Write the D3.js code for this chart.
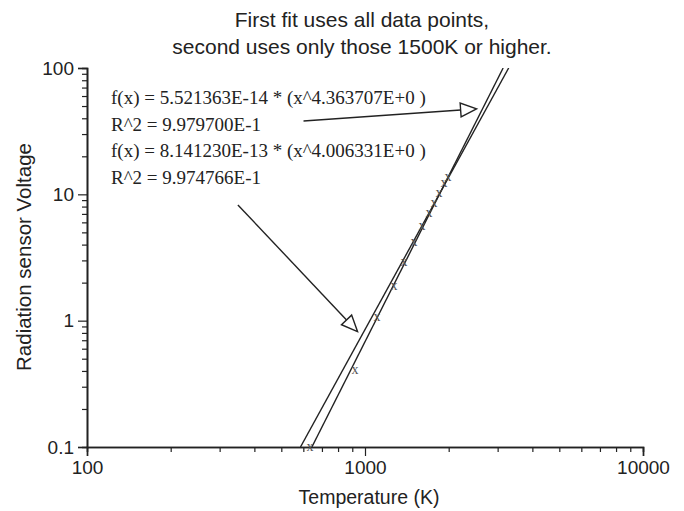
<!DOCTYPE html>
<html>
<head>
  <title>Radiation sensor fit</title>
  <script src="https://d3js.org/d3.v7.min.js"></script>
</head>
<body style="margin:0px; overflow:hidden; background:#fff;">
  <svg id="myPlot" width="684" height="511"></svg>
  <script>
    // Data
    const tempK = [634, 920, 1105, 1271, 1380, 1500, 1603, 1698, 1770, 1845, 1923, 1989];
    const voltage = [0.1, 0.41, 1.07, 1.88, 2.9, 4.2, 5.6, 7.1, 8.6, 10.3, 12.3, 13.7];

    // fit lines (end points where they leave the plot)
    const fitAllT = [644, 3140];
    const fitAllV = [0.1, 100];
    const fitHighT = [586, 3287];
    const fitHighV = [0.1, 100];

    const xTicks = [100, 1000, 10000];
    const xTickLabels = ["100", "1000", "10000"];
    const yTicks = [0.1, 1, 10, 100];
    const yTickLabels = ["0.1", "1", "10", "100"];

    const titleLines = ["First fit uses all data points,", "second uses only those 1500K or higher."];
    const fitText = [
      "f(x) = 5.521363E-14 * (x^4.363707E+0 )",
      "R^2 = 9.979700E-1",
      "f(x) = 8.141230E-13 * (x^4.006331E+0 )",
      "R^2 = 9.974766E-1"
    ];
    // arrows in data coordinates: [T0, V0, T1, V1]
    const arrows = [
      [601, 38.1, 2520, 47.5],
      [349, 8.24, 940, 0.82]
    ];

    // Dimensions
    const mLeft = 87, mRight = 643, mTop = 68, mBottom = 447;
    const ink = "#222";
    const sans = "'Liberation Sans', Arial, sans-serif";
    const serif = "'Liberation Serif', 'Times New Roman', serif";

    const svg = d3.select("#myPlot");

    const x = d3.scaleLog().domain([100, 10000]).range([mLeft, mRight]);
    const y = d3.scaleLog().domain([0.1, 100]).range([mBottom, mTop]);

    // minor ticks
    const minor = (lo, hi) => {
      const out = [];
      for (let e = lo; e < hi; e++) for (let k = 2; k <= 9; k++) out.push(k * Math.pow(10, e));
      return out;
    };

    // X Axis
    const gx = svg.append("g").attr("transform", "translate(0," + mBottom + ")");
    gx.call(d3.axisBottom(x).tickValues(minor(2, 4)).tickSize(5).tickFormat(""));
    gx.append("g").call(d3.axisBottom(x).tickValues(xTicks).tickSize(9)
        .tickFormat((d, i) => xTickLabels[i]).tickPadding(5));
    gx.selectAll("path").attr("stroke", ink).attr("stroke-width", 1.6);
    gx.selectAll("line").attr("stroke", ink).attr("stroke-width", 1.2);
    gx.selectAll("text").attr("fill", ink).style("font-family", sans).style("font-size", "19px");

    // Y Axis
    const gy = svg.append("g").attr("transform", "translate(" + mLeft + ",0)");
    gy.call(d3.axisLeft(y).tickValues(minor(-1, 2)).tickSize(5).tickFormat(""));
    gy.append("g").call(d3.axisLeft(y).tickValues(yTicks).tickSize(9)
        .tickFormat((d, i) => yTickLabels[i]).tickPadding(4));
    gy.selectAll("path").attr("stroke", ink).attr("stroke-width", 1.6);
    gy.selectAll("line").attr("stroke", ink).attr("stroke-width", 1.2);
    gy.selectAll("text").attr("fill", ink).style("font-family", sans).style("font-size", "19px");

    // Axis labels
    svg.append("text")
      .attr("x", 369).attr("y", 504)
      .attr("text-anchor", "middle").attr("fill", ink)
      .style("font-family", sans).style("font-size", "19.5px")
      .text("Temperature (K)");

    svg.append("text")
      .attr("transform", "translate(31,257) rotate(-90)")
      .attr("text-anchor", "middle").attr("fill", ink)
      .style("font-family", sans).style("font-size", "20.5px")
      .text("Radiation sensor Voltage");

    // Title
    svg.append("g").selectAll("text")
      .data(titleLines).enter()
      .append("text")
      .attr("x", 362).attr("y", (d, i) => 27 + i * 27)
      .attr("text-anchor", "middle").attr("fill", ink)
      .style("font-family", sans).style("font-size", "21px")
      .text(d => d);

    // Fit lines, clipped to plot area
    svg.append("clipPath").attr("id", "plotClip")
      .append("rect").attr("x", mLeft).attr("y", mTop)
      .attr("width", mRight - mLeft).attr("height", mBottom - mTop);

    const line = d3.line().x(d => x(d[0])).y(d => y(d[1]));
    const fits = [d3.zip(fitAllT, fitAllV), d3.zip(fitHighT, fitHighV)];
    svg.append("g").attr("clip-path", "url(#plotClip)")
      .selectAll("path").data(fits).enter()
      .append("path")
      .attr("d", line)
      .attr("fill", "none").attr("stroke", ink).attr("stroke-width", 1.4);

    // Data points drawn as x glyphs
    svg.append("g").selectAll("text")
      .data(d3.zip(tempK, voltage)).enter()
      .append("text")
      .attr("x", d => x(d[0])).attr("y", d => y(d[1]) + 4)
      .attr("text-anchor", "middle").attr("fill", "#555")
      .style("font-family", serif).style("font-size", "14px")
      .text("x");

    // Fit annotation text
    svg.append("g").selectAll("text")
      .data(fitText).enter()
      .append("text")
      .attr("x", 111).attr("y", (d, i) => 104 + i * 26.7)
      .attr("fill", ink)
      .style("font-family", serif).style("font-size", "19px")
      .text(d => d);

    // Arrows with open triangle heads
    const ag = svg.append("g");
    arrows.forEach(a => {
      const x0 = x(a[0]), y0 = y(a[1]), x1 = x(a[2]), y1 = y(a[3]);
      const ang = Math.atan2(y1 - y0, x1 - x0);
      const len = 16, half = 7;
      const bx = x1 - len * Math.cos(ang), by = y1 - len * Math.sin(ang);
      ag.append("line")
        .attr("x1", x0).attr("y1", y0).attr("x2", bx).attr("y2", by)
        .attr("stroke", ink).attr("stroke-width", 1.4);
      const px = -Math.sin(ang) * half, py = Math.cos(ang) * half;
      ag.append("path")
        .attr("d", "M" + x1 + "," + y1 + "L" + (bx + px) + "," + (by + py) +
          "L" + (bx - px) + "," + (by - py) + "Z")
        .attr("fill", "#fff").attr("stroke", ink).attr("stroke-width", 1.4);
    });
  </script>
</body>
</html>
